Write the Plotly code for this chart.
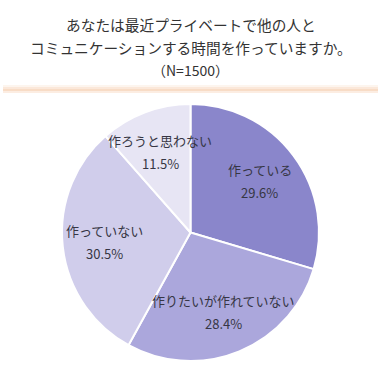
import math
import plotly.graph_objects as go

labels = ["作っている", "作りたいが作れていない", "作っていない", "作ろうと思わない"]
values = [29.6, 28.4, 30.5, 11.5]
colors = ["#8a86cb", "#aba7dc", "#d0cdeb", "#e7e5f4"]
title_lines = ["あなたは最近プライベートで他の人と", "コミュニケーションする時間を作っていますか。"]
subtitle = "（N=1500）"

W, H = 381, 377
FONT = "Noto Sans CJK JP"
CX, CY, R = 190.5, 232.5, 128.5  # pie centre / radius in pixels

fig = go.Figure(go.Pie(
    labels=labels,
    values=values,
    sort=False,
    direction="clockwise",
    rotation=0,
    marker=dict(colors=colors, line=dict(color="white", width=2)),
    textinfo="none",
    domain=dict(x=[(CX - R) / W, (CX + R) / W], y=[1 - (CY + R) / H, 1 - (CY - R) / H]),
    showlegend=False,
    hoverinfo="none",
))

annotations = []
total = sum(values)
cum = 0.0
for lab, v in zip(labels, values):
    mid = (cum + v / 2) / total * 2 * math.pi
    cum += v
    px = CX + 0.67 * R * math.sin(mid)
    py = CY - 0.67 * R * math.cos(mid)
    for txt, dy in ((lab, -11.5), (f"{v:.1f}%", 11.5)):
        annotations.append(dict(
            text=txt, x=px / W, y=1 - (py + dy) / H, xref="paper", yref="paper",
            showarrow=False, align="center", xanchor="center", yanchor="middle",
            font=dict(family=FONT, size=13, color="#363644"),
        ))

shapes = []
band = [(85, 87, "#fdf5ee"), (87, 89, "#fbe8da"), (89, 91, "#f8dcc6"), (91, 93, "#fcede2")]
for y0, y1, c in band:
    shapes.append(dict(type="rect", xref="paper", yref="paper",
                       x0=3 / W, x1=378 / W, y0=1 - y1 / H, y1=1 - y0 / H,
                       fillcolor=c, line=dict(width=0), layer="below"))

annotations += [
    dict(text=title_lines[0], x=0.5, y=1 - 25 / H, xref="paper", yref="paper",
         showarrow=False, font=dict(family=FONT, size=14.7, color="#333333"), xanchor="center", yanchor="middle"),
    dict(text=title_lines[1], x=0.5, y=1 - 48 / H, xref="paper", yref="paper",
         showarrow=False, font=dict(family=FONT, size=14.7, color="#333333"), xanchor="center", yanchor="middle"),
    dict(text=subtitle, x=0.5, y=1 - 70 / H, xref="paper", yref="paper",
         showarrow=False, font=dict(family=FONT, size=14, color="#333333"), xanchor="center", yanchor="middle"),
]

fig.update_layout(
    width=W, height=H,
    margin=dict(l=0, r=0, t=0, b=0),
    paper_bgcolor="white", plot_bgcolor="white",
    shapes=shapes, annotations=annotations,
)

fig.write_html("out.html", config={"displayModeBar": False},
               post_script="document.body.style.margin='0';")
